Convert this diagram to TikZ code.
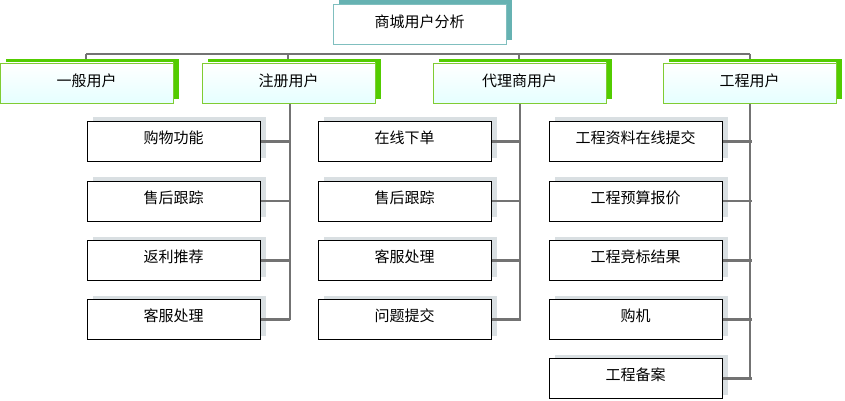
\documentclass[tikz,border=0pt]{standalone}
\usepackage{fontspec}
\setmainfont{Noto Sans CJK SC}
\begin{document}
\begin{tikzpicture}[x=1pt,y=-1pt,
 line/.style={draw=gray!90!black,line width=2.5pt},
 lvl/.style={draw=green!50!yellow!60!gray,line width=0.6pt,minimum width=173pt,minimum height=40pt,inner sep=0pt,text depth=6pt,font=\fontsize{15}{17}\selectfont,top color=white,bottom color=cyan!10},
 kid/.style={draw=black,line width=1pt,fill=white,minimum width=173pt,minimum height=40pt,inner sep=0pt,text depth=8pt,font=\fontsize{15}{17}\selectfont}]
\useasboundingbox (0,0) rectangle (845,401);
% connectors
\draw[line] (86,54) -- (750,54);
\foreach \x in {86,288,519,750}{\draw[line] (\x,54) -- (\x,64);}
\draw[line] (290,103) -- (290,320);
\draw[line] (520,103) -- (520,320);
\draw[line] (750,103) -- (750,378);
% root
\fill[teal!60] (339,0) rectangle (512,40);
\node[draw=teal!50,fill=white,minimum width=173pt,minimum height=40pt,inner sep=0pt,text depth=6pt,font=\fontsize{15}{17}\selectfont] (root) at (419.5,24) {商城用户分析};
% level 1
\foreach \n/\x/\t in {a/86.5/一般用户,b/288.5/注册用户,c/519.5/代理商用户,d/749.5/工程用户}{
 \fill[green!60!yellow!80!black] (\x-80.5,59) rectangle (\x+92.5,99);
 \node[lvl] (\n) at (\x,83) {\t};
}
\newcommand\kidbox[4]{%
 \fill[cyan!15!gray!30] (#1-80.5,#2-24) rectangle (#1+92.5,#2+16);
 \node[kid] (#4) at (#1,#2) {#3};
 \draw[line] (#4.east) -- ++(29,0);}
\kidbox{173.5}{141.5}{购物功能}{a1}
\kidbox{173.5}{201}{售后跟踪}{a2}
\kidbox{173.5}{260.5}{返利推荐}{a3}
\kidbox{173.5}{319.5}{客服处理}{a4}
\kidbox{404.5}{141.5}{在线下单}{b1}
\kidbox{404.5}{201}{售后跟踪}{b2}
\kidbox{404.5}{260.5}{客服处理}{b3}
\kidbox{404.5}{319.5}{问题提交}{b4}
\kidbox{635.5}{141.5}{工程资料在线提交}{c1}
\kidbox{635.5}{201}{工程预算报价}{c2}
\kidbox{635.5}{260.5}{工程竞标结果}{c3}
\kidbox{635.5}{319.5}{购机}{c4}
\kidbox{635.5}{378.5}{工程备案}{c5}
\end{tikzpicture}
\end{document}
